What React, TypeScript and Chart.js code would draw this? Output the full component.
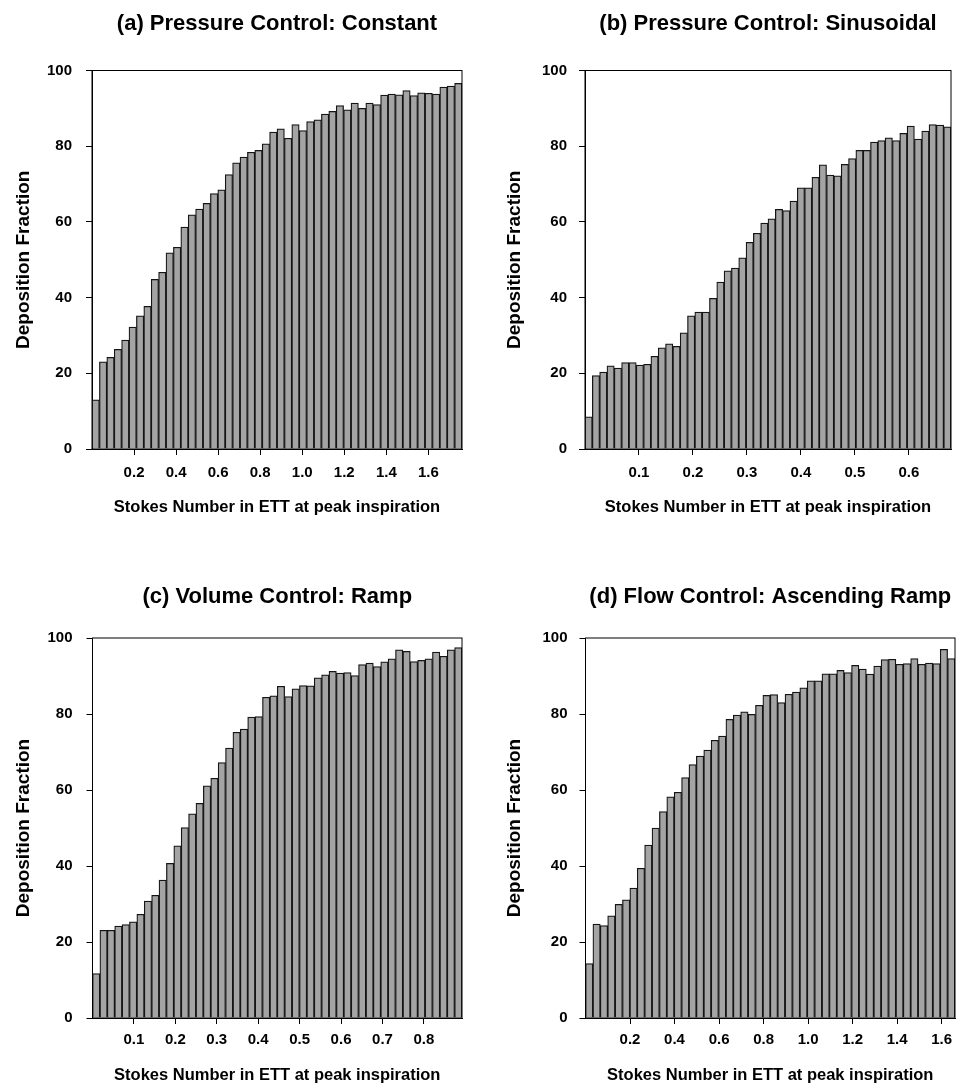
import React, { useEffect, useRef } from 'react';
import { Chart, registerables } from 'chart.js';

Chart.register(...registerables);

// ---------------- DATA ----------------
const panelTitles = [
  '(a) Pressure Control: Constant',
  '(b) Pressure Control: Sinusoidal',
  '(c) Volume Control: Ramp',
  '(d) Flow Control: Ascending Ramp',
];
const xAxisTitle = 'Stokes Number in ETT at peak inspiration';
const yAxisTitle = 'Deposition Fraction';

const yTicks = [0, 20, 40, 60, 80, 100];

// x-axis range (Stokes number) for each panel
const xMaxA = 1.76;
const xMaxB = 0.678;
const xMaxC = 0.892;
const xMaxD = 1.66;

const xTicksA = [0.2, 0.4, 0.6, 0.8, 1.0, 1.2, 1.4, 1.6];
const xTicksB = [0.1, 0.2, 0.3, 0.4, 0.5, 0.6];
const xTicksC = [0.1, 0.2, 0.3, 0.4, 0.5, 0.6, 0.7, 0.8];
const xTicksD = [0.2, 0.4, 0.6, 0.8, 1.0, 1.2, 1.4, 1.6];

const valuesA = [
  13, 23, 24.2, 26.3, 28.8, 32.2, 35.2, 37.7, 44.8, 46.7,
  51.8, 53.3, 58.6, 61.9, 63.4, 64.9, 67.5, 68.5, 72.5, 75.6,
  77.1, 78.4, 78.9, 80.6, 83.7, 84.6, 82.1, 85.7, 84.1, 86.5,
  87.0, 88.5, 89.2, 90.7, 89.6, 91.4, 90.0, 91.4, 91.0, 93.5,
  93.8, 93.6, 94.7, 93.4, 94.1, 94.0, 93.8, 95.6, 95.9, 96.6,
];
const valuesB = [
  8.5, 19.4, 20.3, 22.0, 21.4, 22.8, 22.8, 22.2, 22.4, 24.5,
  26.7, 27.8, 27.1, 30.7, 35.2, 36.2, 36.2, 39.8, 44.1, 47.1,
  47.8, 50.5, 54.6, 57.0, 59.7, 60.8, 63.3, 63.0, 65.5, 69.0,
  69.0, 71.8, 75.1, 72.4, 72.2, 75.2, 76.7, 78.9, 78.9, 81.1,
  81.5, 82.2, 81.5, 83.4, 85.3, 81.9, 84.0, 85.7, 85.6, 85.1,
];
const valuesC = [
  11.7, 23.1, 23.1, 24.2, 24.6, 25.3, 27.3, 30.8, 32.3, 36.3,
  40.7, 45.3, 50.1, 53.7, 56.5, 61.1, 63.1, 67.2, 71.0, 75.2,
  76.0, 79.2, 79.3, 84.4, 84.8, 87.3, 84.6, 86.6, 87.5, 87.4,
  89.5, 90.3, 91.2, 90.8, 90.9, 90.1, 93.0, 93.4, 92.5, 93.7,
  94.5, 96.9, 96.5, 93.8, 94.1, 94.5, 96.3, 95.2, 96.9, 97.5,
];
const valuesD = [
  14.3, 24.7, 24.3, 26.9, 29.9, 31.1, 34.2, 39.4, 45.5, 50.0,
  54.3, 58.2, 59.4, 63.3, 66.7, 68.9, 70.5, 73.1, 74.2, 78.6,
  79.7, 80.6, 79.9, 82.3, 84.9, 85.1, 83.0, 85.2, 85.8, 86.9,
  88.7, 88.7, 90.6, 90.6, 91.5, 90.9, 92.8, 91.8, 90.5, 92.6,
  94.3, 94.4, 93.1, 93.3, 94.6, 93.1, 93.4, 93.3, 97.0, 94.6,
];

// ---------------- STYLE ----------------
const FONT = "'Liberation Sans', Arial, Helvetica, sans-serif";
const TITLE_SIZE = 22;
const TICK_SIZE = 15;
const XTITLE_SIZE = 16.5;
const YTITLE_SIZE = 19;
const LH = 1.2;
const BAR_FILL = '#a4a4a4';
const BAR_EDGE = '#151515';
const TICK_LEN = 6;

type Geo = {
  left: number; top: number; width: number; height: number;
  plot: { left: number; top: number; right: number; bottom: number };
  titleY: number; yTitleX: number; xTitleY: number; xLabelY: number; yLabelGap: number;
};

type PanelProps = {
  geo: Geo;
  title: string;
  values: number[];
  xMax: number;
  xTicks: number[];
};

const framePlugin = {
  id: 'frame',
  afterDraw(chart: any) {
    const { ctx, chartArea: a } = chart;
    ctx.save();
    ctx.strokeStyle = '#000';
    ctx.lineWidth = 1;
    ctx.strokeRect(a.left, a.top, a.right - a.left, a.bottom - a.top);
    ctx.restore();
  },
};

function Panel({ geo, title, values, xMax, xTicks }: PanelProps) {
  const ref = useRef<HTMLCanvasElement>(null);
  useEffect(() => {
    const canvas = ref.current!;
    const binW = xMax / values.length;
    const data = values.map((v, i) => ({ x: (i + 0.5) * binW, y: v }));
    const tLH = TITLE_SIZE * LH;
    const titlePadTop = geo.titleY - geo.top - tLH / 2;
    const titlePadBottom = geo.plot.top - geo.top - titlePadTop - tLH;
    const yTLH = YTITLE_SIZE * LH;
    const xTLH = XTITLE_SIZE * LH;
    const tickLH = TICK_SIZE * LH;
    const xScaleH = geo.top + geo.height - geo.plot.bottom;
    const chart = new Chart(canvas, {
      type: 'bar',
      data: {
        datasets: [
          {
            data,
            backgroundColor: BAR_FILL,
            borderColor: BAR_EDGE,
            borderWidth: 1.25,
            barPercentage: 1,
            categoryPercentage: 1,
          } as any,
        ],
      },
      options: {
        animation: false,
        responsive: false,
        maintainAspectRatio: false,
        devicePixelRatio: 1,
        layout: {
          padding: { left: 0, top: 0, bottom: 0, right: geo.left + geo.width - geo.plot.right },
        },
        plugins: {
          legend: { display: false },
          tooltip: { enabled: false },
          title: {
            display: true,
            text: title,
            fullSize: false,
            color: '#000',
            font: { family: FONT, size: TITLE_SIZE, weight: 'bold', lineHeight: LH },
            padding: { top: titlePadTop, bottom: titlePadBottom },
          },
        },
        scales: {
          x: {
            type: 'linear',
            min: 0,
            max: xMax,
            offset: false,
            afterBuildTicks: (s: any) => {
              s.ticks = xTicks.map((v) => ({ value: v }));
            },
            afterFit: (s: any) => {
              s.height = xScaleH;
            },
            ticks: {
              autoSkip: false,
              maxRotation: 0,
              color: '#000',
              padding: geo.xLabelY - geo.plot.bottom - TICK_LEN - tickLH / 2,
              font: { family: FONT, size: TICK_SIZE, weight: 'bold', lineHeight: LH },
              callback: (v: any) => Number(v).toFixed(1),
            },
            grid: {
              display: true,
              drawOnChartArea: false,
              drawTicks: true,
              tickLength: TICK_LEN,
              color: '#000',
              offset: false,
            },
            border: { display: true, color: '#000', width: 1 },
            title: {
              display: true,
              text: xAxisTitle,
              color: '#000',
              font: { family: FONT, size: XTITLE_SIZE, weight: 'bold', lineHeight: LH },
              padding: { top: 0, bottom: geo.top + geo.height - geo.xTitleY - xTLH / 2 },
            },
          },
          y: {
            type: 'linear',
            min: 0,
            max: 100,
            afterBuildTicks: (s: any) => {
              s.ticks = yTicks.map((v) => ({ value: v }));
            },
            afterFit: (s: any) => {
              s.width = geo.plot.left - geo.left;
            },
            ticks: {
              color: '#000',
              padding: geo.yLabelGap - TICK_LEN,
              font: { family: FONT, size: TICK_SIZE, weight: 'bold', lineHeight: LH },
            },
            grid: {
              display: true,
              drawOnChartArea: false,
              drawTicks: true,
              tickLength: TICK_LEN,
              color: '#000',
            },
            border: { display: true, color: '#000', width: 1 },
            title: {
              display: true,
              text: yAxisTitle,
              color: '#000',
              font: { family: FONT, size: YTITLE_SIZE, weight: 'bold', lineHeight: LH },
              padding: { top: geo.yTitleX - geo.left - yTLH / 2, bottom: 0 },
            },
          },
        },
      } as any,
      plugins: [framePlugin],
    });
    return () => chart.destroy();
  }, []);
  return (
    <canvas
      ref={ref}
      width={geo.width}
      height={geo.height}
      style={{ position: 'absolute', left: geo.left, top: geo.top, width: geo.width, height: geo.height }}
    />
  );
}

const geoA: Geo = {
  left: 0, top: 0, width: 481, height: 519,
  plot: { left: 92, top: 70.5, right: 462, bottom: 449 },
  titleY: 23.5, yTitleX: 23.5, xTitleY: 507, xLabelY: 473, yLabelGap: 20,
};
const geoB: Geo = {
  left: 481, top: 0, width: 482, height: 519,
  plot: { left: 585, top: 70.5, right: 951, bottom: 449 },
  titleY: 23.5, yTitleX: 515, xTitleY: 507, xLabelY: 473, yLabelGap: 18,
};
const geoC: Geo = {
  left: 0, top: 568, width: 481, height: 520,
  plot: { left: 92.5, top: 638, right: 462, bottom: 1018 },
  titleY: 596.5, yTitleX: 23.5, xTitleY: 1075, xLabelY: 1040, yLabelGap: 20,
};
const geoD: Geo = {
  left: 481, top: 568, width: 482, height: 520,
  plot: { left: 585.5, top: 638, right: 955, bottom: 1018 },
  titleY: 596.5, yTitleX: 515, xTitleY: 1075, xLabelY: 1040, yLabelGap: 18,
};

export default function App() {
  return (
    <div style={{ position: 'absolute', left: 0, top: 0, width: 963, height: 1092, background: '#fff' }}>
      <Panel geo={geoA} title={panelTitles[0]} values={valuesA} xMax={xMaxA} xTicks={xTicksA} />
      <Panel geo={geoB} title={panelTitles[1]} values={valuesB} xMax={xMaxB} xTicks={xTicksB} />
      <Panel geo={geoC} title={panelTitles[2]} values={valuesC} xMax={xMaxC} xTicks={xTicksC} />
      <Panel geo={geoD} title={panelTitles[3]} values={valuesD} xMax={xMaxD} xTicks={xTicksD} />
    </div>
  );
}
